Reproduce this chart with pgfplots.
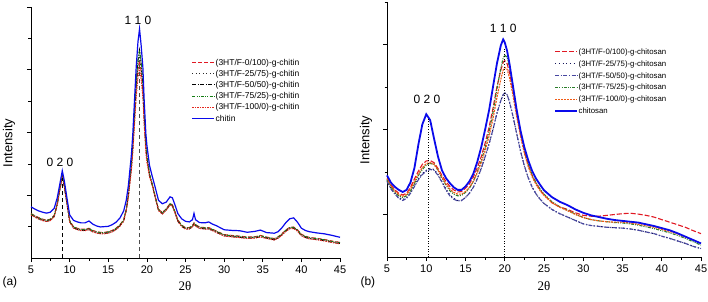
\documentclass[border=0pt]{standalone}
\usepackage{pgfplots}
\pgfplotsset{compat=1.18}
\usepackage{pgfplotstable}
\usepackage{fontspec}
\setmainfont{Liberation Sans}
\newfontfamily\seriffont{Liberation Serif}

\definecolor{cblue}{RGB}{10,10,235}
\definecolor{cred}{RGB}{225,25,35}
\definecolor{cgreen}{RGB}{20,125,20}
\definecolor{cdark}{RGB}{40,40,40}
\definecolor{cnavy}{RGB}{20,20,90}
\definecolor{cpurp}{RGB}{70,70,160}
\definecolor{corange}{RGB}{240,90,20}

\pgfplotstableread{
x chitin c0 c25 c50 c75 c100
5.0 1.63 1.42 1.40 1.38 1.41 1.37
5.5 1.56 1.35 1.33 1.31 1.34 1.30
6.0 1.50 1.29 1.27 1.25 1.28 1.24
6.5 1.46 1.24 1.22 1.20 1.23 1.19
7.0 1.43 1.21 1.19 1.17 1.20 1.16
7.5 1.46 1.24 1.22 1.20 1.23 1.19
8.0 1.58 1.36 1.34 1.32 1.35 1.31
8.4 1.92 1.74 1.72 1.70 1.73 1.69
8.75 2.38 2.24 2.22 2.20 2.23 2.19
9.05 2.78 2.60 2.62 2.58 2.63 2.55
9.3 2.48 2.34 2.32 2.30 2.33 2.29
9.65 1.92 1.78 1.76 1.74 1.77 1.73
10.0 1.38 1.20 1.18 1.16 1.19 1.15
10.5 1.20 1.00 0.98 0.96 0.99 0.95
11.0 1.15 0.95 0.93 0.91 0.94 0.90
11.5 1.12 0.92 0.90 0.88 0.91 0.87
12.0 1.12 0.92 0.90 0.88 0.91 0.87
12.5 1.18 0.95 0.93 0.91 0.94 0.90
13.0 1.08 0.88 0.86 0.84 0.87 0.83
13.5 1.02 0.84 0.82 0.80 0.83 0.79
14.0 0.99 0.82 0.80 0.78 0.81 0.77
14.5 1.00 0.82 0.80 0.78 0.81 0.77
15.0 1.01 0.84 0.82 0.80 0.83 0.79
15.5 1.06 0.88 0.86 0.84 0.87 0.83
16.0 1.14 0.95 0.93 0.91 0.94 0.90
16.5 1.27 1.06 1.04 1.02 1.05 1.01
17.0 1.50 1.22 1.20 1.18 1.21 1.17
17.33 1.84 1.56 1.54 1.52 1.55 1.50
17.6 2.30 2.00 1.98 1.98 2.00 1.92
17.84 2.90 2.55 2.55 2.58 2.60 2.45
18.0 3.30 2.90 2.92 2.96 2.98 2.78
18.18 3.96 3.48 3.52 3.60 3.60 3.35
18.4 5.03 4.40 4.48 4.60 4.60 4.22
18.62 6.09 5.35 5.45 5.60 5.60 5.12
18.85 6.90 6.00 6.12 6.30 6.30 5.75
19.05 7.30 6.31 6.44 6.63 6.63 6.05
19.25 6.80 5.95 6.07 6.25 6.25 5.70
19.48 6.09 5.35 5.45 5.60 5.60 5.12
19.65 5.03 4.40 4.48 4.60 4.60 4.22
19.87 3.96 3.48 3.52 3.60 3.60 3.35
20.0 3.60 3.18 3.20 3.26 3.27 3.05
20.34 2.95 2.65 2.65 2.66 2.68 2.58
20.7 2.60 2.36 2.34 2.32 2.35 2.30
21.07 2.26 1.98 1.96 1.94 1.97 1.93
21.5 1.84 1.56 1.54 1.52 1.55 1.51
22.0 1.73 1.45 1.43 1.41 1.44 1.40
22.5 1.78 1.57 1.55 1.53 1.56 1.52
23.0 1.95 1.74 1.72 1.70 1.73 1.69
23.3 1.92 1.70 1.68 1.66 1.69 1.65
23.7 1.65 1.44 1.42 1.40 1.43 1.39
24.0 1.42 1.22 1.20 1.18 1.21 1.17
24.5 1.25 1.05 1.03 1.01 1.04 1.00
25.0 1.17 0.97 0.95 0.93 0.96 0.92
25.5 1.15 0.97 0.95 0.93 0.96 0.92
25.9 1.22 1.04 1.02 1.00 1.03 0.99
26.1 1.42 1.12 1.10 1.08 1.11 1.07
26.3 1.22 1.07 1.05 1.03 1.06 1.02
26.8 1.13 0.99 0.97 0.95 0.98 0.94
27.5 1.12 0.97 0.95 0.93 0.96 0.92
28.0 1.15 0.97 0.95 0.93 0.96 0.92
28.5 1.08 0.92 0.90 0.88 0.91 0.87
29.0 1.03 0.86 0.84 0.82 0.85 0.81
30.0 0.90 0.75 0.73 0.71 0.74 0.70
31.0 0.88 0.72 0.70 0.68 0.71 0.67
32.0 0.87 0.70 0.68 0.66 0.69 0.65
33.0 0.82 0.67 0.65 0.63 0.66 0.62
34.0 0.85 0.68 0.66 0.64 0.67 0.63
34.7 0.89 0.72 0.70 0.68 0.71 0.67
35.5 0.81 0.67 0.65 0.63 0.66 0.62
36.5 0.79 0.62 0.60 0.58 0.61 0.57
37.0 0.84 0.68 0.66 0.64 0.67 0.63
37.5 0.97 0.78 0.76 0.74 0.77 0.73
38.0 1.13 0.90 0.88 0.86 0.89 0.85
38.5 1.25 0.98 0.96 0.94 0.97 0.93
39.0 1.28 0.99 0.97 0.95 0.98 0.94
39.5 1.14 0.90 0.88 0.86 0.89 0.85
40.0 0.95 0.76 0.74 0.72 0.75 0.71
40.5 0.88 0.70 0.68 0.66 0.69 0.65
41.0 0.84 0.66 0.64 0.62 0.65 0.61
42.0 0.80 0.63 0.61 0.59 0.62 0.58
43.0 0.77 0.59 0.57 0.55 0.58 0.54
44.0 0.72 0.54 0.52 0.50 0.53 0.49
45.0 0.66 0.50 0.48 0.46 0.49 0.45
}\tabA

\pgfplotstableread{
x chitosan c0 c25 c50 c75 c100
5.0 1.92 1.84 1.80 1.78 1.82 1.85
5.5 1.75 1.70 1.62 1.60 1.65 1.68
6.0 1.65 1.58 1.50 1.48 1.52 1.55
6.5 1.58 1.50 1.40 1.38 1.44 1.47
7.0 1.53 1.46 1.35 1.33 1.40 1.43
7.5 1.58 1.50 1.40 1.38 1.44 1.47
8.0 1.76 1.64 1.52 1.50 1.56 1.60
8.5 2.10 1.84 1.68 1.66 1.74 1.78
9.0 2.65 2.02 1.84 1.82 1.92 1.96
9.5 3.12 2.18 1.96 1.94 2.06 2.10
10.0 3.36 2.26 2.04 2.02 2.16 2.20
10.5 3.22 2.27 2.08 2.06 2.20 2.22
11.0 2.78 2.22 2.06 2.04 2.18 2.18
11.5 2.36 2.08 1.94 1.92 2.04 2.04
12.0 2.04 1.92 1.78 1.76 1.86 1.88
12.5 1.86 1.78 1.60 1.58 1.70 1.72
13.0 1.74 1.66 1.46 1.44 1.56 1.60
13.5 1.64 1.58 1.38 1.36 1.48 1.52
14.0 1.58 1.53 1.33 1.32 1.44 1.48
14.5 1.58 1.54 1.33 1.33 1.45 1.48
15.0 1.66 1.62 1.40 1.40 1.52 1.54
15.5 1.78 1.72 1.50 1.50 1.62 1.64
16.0 1.96 1.88 1.64 1.64 1.78 1.78
16.5 2.24 2.10 1.84 1.84 2.00 1.98
17.0 2.58 2.36 2.08 2.08 2.26 2.22
17.5 3.00 2.68 2.36 2.36 2.58 2.50
18.0 3.45 3.05 2.66 2.66 2.94 2.84
18.5 4.00 3.50 3.00 3.00 3.40 3.25
19.0 4.55 4.00 3.38 3.38 3.95 3.75
19.5 4.98 4.40 3.68 3.68 4.45 4.18
19.8 5.12 4.58 3.82 3.82 4.68 4.40
20.0 5.05 4.62 3.86 3.86 4.75 4.46
20.3 4.85 4.55 3.82 3.82 4.70 4.42
20.6 4.55 4.35 3.65 3.65 4.48 4.22
21.0 4.08 3.95 3.35 3.35 4.05 3.85
21.5 3.48 3.40 2.92 2.92 3.48 3.32
22.0 2.98 2.90 2.50 2.50 2.95 2.85
22.5 2.58 2.48 2.14 2.14 2.52 2.44
23.0 2.27 2.16 1.86 1.86 2.18 2.12
23.5 2.02 1.92 1.64 1.64 1.92 1.88
24.0 1.84 1.74 1.48 1.48 1.74 1.70
24.5 1.70 1.58 1.36 1.36 1.60 1.56
25.0 1.57 1.46 1.26 1.26 1.48 1.45
26.0 1.41 1.28 1.12 1.12 1.30 1.28
27.0 1.30 1.18 1.02 1.02 1.18 1.17
28.0 1.22 1.12 0.94 0.94 1.10 1.09
29.0 1.12 1.04 0.86 0.86 1.01 1.00
30.0 1.04 0.98 0.78 0.78 0.93 0.93
31.0 0.98 0.96 0.74 0.74 0.88 0.88
32.0 0.94 0.96 0.72 0.72 0.85 0.85
33.0 0.90 0.98 0.70 0.70 0.83 0.83
34.0 0.87 1.00 0.69 0.69 0.81 0.82
35.0 0.85 1.02 0.68 0.68 0.80 0.82
36.0 0.83 1.03 0.66 0.66 0.78 0.80
37.0 0.81 1.01 0.63 0.63 0.75 0.77
38.0 0.77 0.98 0.59 0.59 0.71 0.74
39.0 0.73 0.94 0.55 0.55 0.67 0.70
40.0 0.68 0.88 0.49 0.49 0.62 0.65
41.0 0.63 0.82 0.44 0.44 0.57 0.60
42.0 0.56 0.76 0.38 0.38 0.51 0.54
43.0 0.48 0.70 0.32 0.32 0.44 0.47
44.0 0.40 0.62 0.25 0.25 0.36 0.40
45.0 0.32 0.55 0.20 0.20 0.28 0.32
}\tabB

\pgfplotsset{
  xrdaxis/.style={
    scale only axis,
    axis x line*=bottom, axis y line*=left,
    axis line style={-, line width=0.7pt},
    every outer x axis line/.append style={-},
    every outer y axis line/.append style={-},
    xmin=5, xmax=45,
    xtick={5,10,...,45},
    minor x tick num=1,
    tick align=outside,
    major tick length=4pt, minor tick length=2.5pt,
    tick style={line width=0.7pt, black},
    yticklabels={},
    ticklabel style={font=\fontsize{11}{12}\selectfont},
    /pgf/number format/assume math mode=true,
    clip=false,
    legend cell align=left,
    legend style={draw=none, fill=none,
      row sep=1pt, inner sep=0pt},
    legend image code/.code={\draw[##1] (0pt,0pt) -- (22pt,0pt);},
  }
}

\begin{document}
\begin{tikzpicture}[x=1pt,y=1pt]
\useasboundingbox (0,0) rectangle (708,301);

% ---------------- panel (a)
\begin{axis}[xrdaxis,
  at={(31pt,43pt)}, anchor=south west,
  width=309pt, height=251pt,
  ymin=0, ymax=8,
  ytick={2,4,6,8}, minor ytick={1,3,5,7},
  legend style={at={(0.52,0.80)}, anchor=north west,
    font=\fontsize{8.5}{10}\selectfont,
    nodes={inner sep=0.6pt, text height=7pt, text depth=2pt}},
]
\addplot[cred, line width=0.9pt, dash pattern=on 4pt off 2pt] table[x=x,y=c0]{\tabA};
\addlegendentry{(3HT/F-0/100)-g-chitin}
\addplot[cdark, line width=0.9pt, dash pattern=on 1pt off 2.5pt] table[x=x,y=c25]{\tabA};
\addlegendentry{(3HT/F-25/75)-g-chitin}
\addplot[black, line width=0.9pt, dash pattern=on 4pt off 1.5pt on 1pt off 1.5pt] table[x=x,y=c50]{\tabA};
\addlegendentry{(3HT/F-50/50)-g-chitin}
\addplot[cgreen, line width=0.9pt, dash pattern=on 3pt off 1.2pt on 1pt off 1.2pt on 1pt off 1.2pt] table[x=x,y=c75]{\tabA};
\addlegendentry{(3HT/F-75/25)-g-chitin}
\addplot[cred!85!orange, line width=0.9pt, dash pattern=on 1.5pt off 1pt] table[x=x,y=c100]{\tabA};
\addlegendentry{(3HT/F-100/0)-g-chitin}
\addplot[cblue, line width=1.2pt] table[x=x,y=chitin]{\tabA};
\addlegendentry{chitin}
\addplot[black, line width=1pt, dash pattern=on 4pt off 3pt, forget plot] coordinates {(9.1,0) (9.1,2.55)};
\addplot[black!70, line width=1.3pt, dash pattern=on 4pt off 3pt, forget plot] coordinates {(19.0,0) (19.0,6.3)};
\node[font=\fontsize{12}{13}\selectfont] at (axis cs:8.75,3.06) {0 2 0};
\node[font=\fontsize{12}{13}\selectfont] at (axis cs:18.85,7.59) {1 1 0};
\end{axis}

% ---------------- panel (b)
\begin{axis}[xrdaxis,
  at={(387pt,44pt)}, anchor=south west,
  width=314pt, height=255pt,
  ymin=0, ymax=6,
  ytick={1,3,5}, minor ytick={2,4,6},
  legend style={at={(0.532,0.825)}, anchor=north west,
    font=\fontsize{7.8}{9}\selectfont, row sep=1.6pt,
    nodes={inner sep=0.6pt, text height=7pt, text depth=2pt}},
]
\addplot[cred, line width=1.1pt, dash pattern=on 5pt off 2pt] table[x=x,y=c0]{\tabB};
\addlegendentry{(3HT/F-0/100)-g-chitosan}
\addplot[cnavy, line width=1.1pt, dash pattern=on 1.2pt off 2.5pt] table[x=x,y=c25]{\tabB};
\addlegendentry{(3HT/F-25/75)-g-chitosan}
\addplot[cpurp, line width=1.1pt, dash pattern=on 4pt off 1.5pt on 1.2pt off 1.5pt] table[x=x,y=c50]{\tabB};
\addlegendentry{(3HT/F-50/50)-g-chitosan}
\addplot[cgreen!80!gray, line width=1.1pt, dash pattern=on 3pt off 1.2pt on 1pt off 1.2pt on 1pt off 1.2pt] table[x=x,y=c75]{\tabB};
\addlegendentry{(3HT/F-75/25)-g-chitosan}
\addplot[corange, line width=1.1pt, dash pattern=on 2pt off 1pt] table[x=x,y=c100]{\tabB};
\addlegendentry{(3HT/F-100/0)-g-chitosan}
\addplot[cblue, line width=1.8pt] table[x=x,y=chitosan]{\tabB};
\addlegendentry{chitosan}
\addplot[black, line width=0.6pt, dotted, forget plot] coordinates {(10.2,0) (10.2,3.3)};
\addplot[black, line width=0.6pt, dotted, forget plot] coordinates {(20.0,0) (20.0,4.9)};
\node[font=\fontsize{12}{13}\selectfont] at (axis cs:10.1,3.72) {0 2 0};
\node[font=\fontsize{12}{13}\selectfont] at (axis cs:19.8,5.39) {1 1 0};
\end{axis}

% labels
\node[rotate=90, font=\fontsize{13}{14}\selectfont] at (9,158) {Intensity};
\node[rotate=90, font=\fontsize{13}{14}\selectfont] at (366,161) {Intensity};
\node[font=\fontsize{13}{14}\selectfont\seriffont] at (185,15) {2θ};
\node[font=\fontsize{13}{14}\selectfont\seriffont] at (544,15) {2θ};
\node[font=\fontsize{12}{13}\selectfont, anchor=west] at (-1,19) {(a)};
\node[font=\fontsize{12}{13}\selectfont, anchor=west] at (357,19) {(b)};
\end{tikzpicture}
\end{document}
